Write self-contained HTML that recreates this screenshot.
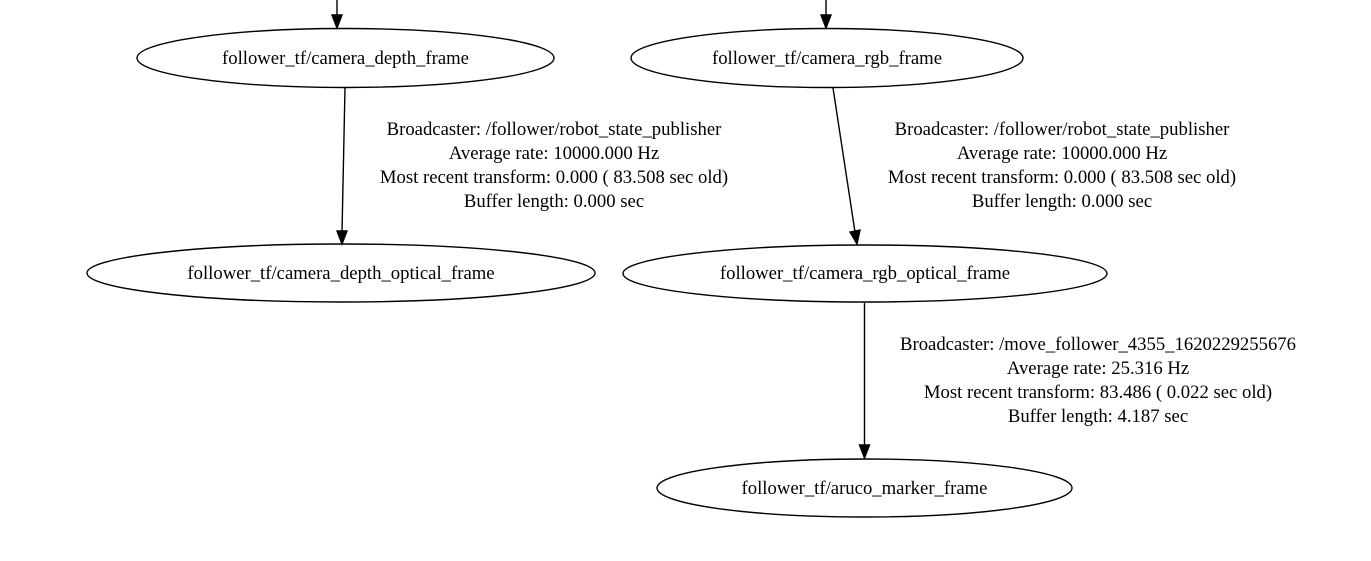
<!DOCTYPE html>
<html><head><style>body{margin:0;background:#fff}svg{display:block}text{font-family:"Liberation Serif",serif;font-size:18.7px;fill:#000}</style></head>
<body>
<svg width="1371" height="561" viewBox="0 0 1371 561" xmlns="http://www.w3.org/2000/svg">
<g fill="none" stroke="#000" stroke-width="1.4">
<ellipse cx="345.5" cy="58" rx="208.5" ry="29.5"/>
<ellipse cx="827" cy="58" rx="196" ry="29.5"/>
<ellipse cx="341" cy="273" rx="254" ry="29"/>
<ellipse cx="865" cy="273.5" rx="242" ry="28.5"/>
<ellipse cx="864.5" cy="488" rx="207.5" ry="29"/>
<line x1="337" y1="0" x2="337" y2="16"/>
<line x1="826" y1="0" x2="826" y2="16"/>
<line x1="345" y1="88" x2="342" y2="232"/>
<line x1="833" y1="88" x2="855" y2="232"/>
<line x1="864.5" y1="303" x2="864.5" y2="446"/>
</g>
<g fill="#000" stroke="#000" stroke-width="1.4">
<polygon points="332,15 342,15 337,28"/>
<polygon points="821,15 831,15 826,28"/>
<polygon points="337,231 347,231 342,244"/>
<polygon points="850,232 860,230 857,244"/>
<polygon points="859.5,445 869.5,445 864.5,458"/>
</g>
<g text-anchor="middle">
<text x="345.5" y="64">follower_tf/camera_depth_frame</text>
<text x="827" y="64">follower_tf/camera_rgb_frame</text>
<text x="341" y="279">follower_tf/camera_depth_optical_frame</text>
<text x="865" y="279">follower_tf/camera_rgb_optical_frame</text>
<text x="864.5" y="494">follower_tf/aruco_marker_frame</text>
<text x="554" y="135">Broadcaster: /follower/robot_state_publisher</text>
<text x="554" y="159">Average rate: 10000.000 Hz</text>
<text x="554" y="183">Most recent transform: 0.000 ( 83.508 sec old)</text>
<text x="554" y="207">Buffer length: 0.000 sec</text>
<text x="1062" y="135">Broadcaster: /follower/robot_state_publisher</text>
<text x="1062" y="159">Average rate: 10000.000 Hz</text>
<text x="1062" y="183">Most recent transform: 0.000 ( 83.508 sec old)</text>
<text x="1062" y="207">Buffer length: 0.000 sec</text>
<text x="1098" y="350">Broadcaster: /move_follower_4355_1620229255676</text>
<text x="1098" y="374">Average rate: 25.316 Hz</text>
<text x="1098" y="398">Most recent transform: 83.486 ( 0.022 sec old)</text>
<text x="1098" y="422">Buffer length: 4.187 sec</text>
</g>
</svg>
</body></html>
